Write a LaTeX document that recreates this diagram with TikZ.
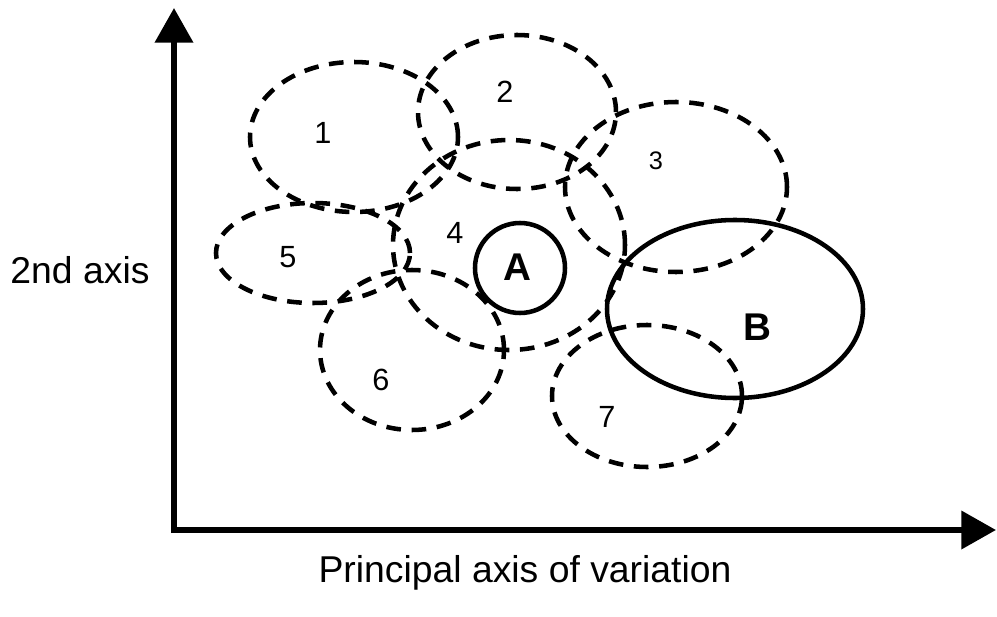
\documentclass[tikz,border=0pt]{standalone}
\usepackage{fontspec}
\setmainfont{Liberation Sans}
\usepackage{tikz}
\usetikzlibrary{arrows.meta, shapes.geometric}

\begin{document}
\begin{tikzpicture}[
      x=0.75pt, y=-0.75pt,
      axis/.style={line width=4.5pt, -{Triangle[length=26pt,width=28pt]}},
      zone/.style={ellipse, draw, line width=3.4pt, dash pattern=on 11pt off 8pt, inner sep=0pt},
      group/.style={ellipse, draw, line width=3.4pt, inner sep=0pt},
      num/.style={font=\fontsize{23}{26}\selectfont},
      big/.style={font=\fontsize{29}{32}\selectfont\bfseries},
      title/.style={font=\fontsize{28}{32}\selectfont}
    ]
      \useasboundingbox (0,0) rectangle (997,617);

      % axes
      \coordinate (origin) at (174,530);
      \coordinate (ytop) at (174,8);
      \coordinate (xend) at (996,530);
      \draw[axis] ([yshift=-2.25pt]origin) -- (ytop);
      \draw[axis] ([xshift=-2.25pt]origin) -- (xend);
      \node[title] (ylab) at (80,270) {2nd axis};
      \node[title] (xlab) at (525,573) {Principal axis of variation};

      % dashed groups
      \node[zone, minimum width=156pt, minimum height=112.5pt] (z1) at (354,137) {};
      \node[zone, minimum width=148.5pt, minimum height=115.5pt] (z2) at (517,112) {};
      \node[zone, minimum width=166.5pt, minimum height=127.5pt] (z3) at (676,187) {};
      \node[zone, minimum width=174pt, minimum height=157.5pt] (z4) at (509,245) {};
      \node[zone, minimum width=145.5pt, minimum height=75pt] (z5) at (313,253) {};
      \node[zone, minimum width=138pt, minimum height=120pt] (z6) at (412,350) {};
      \node[zone, minimum width=142.5pt, minimum height=106.5pt] (z7) at (647,396) {};

      \node[num] (n1) at (323,133) {1};
      \node[num] (n2) at (505,92) {2};
      \node[num, font=\fontsize{19}{22}\selectfont] (n3) at (656,161) {3};
      \node[num] (n4) at (455,233) {4};
      \node[num] (n5) at (288,257) {5};
      \node[num] (n6) at (381,380) {6};
      \node[num] (n7) at (607,417) {7};

      % solid groups
      \node[group, minimum width=67.5pt, minimum height=67.5pt] (gA) at (520,268) {};
      \node[group, minimum width=192pt, minimum height=133.5pt] (gB) at (735,309) {};
      \node[big] (lA) at (517,267) {A};
      \node[big] (lB) at (757,327) {B};
    \end{tikzpicture}
\end{document}
